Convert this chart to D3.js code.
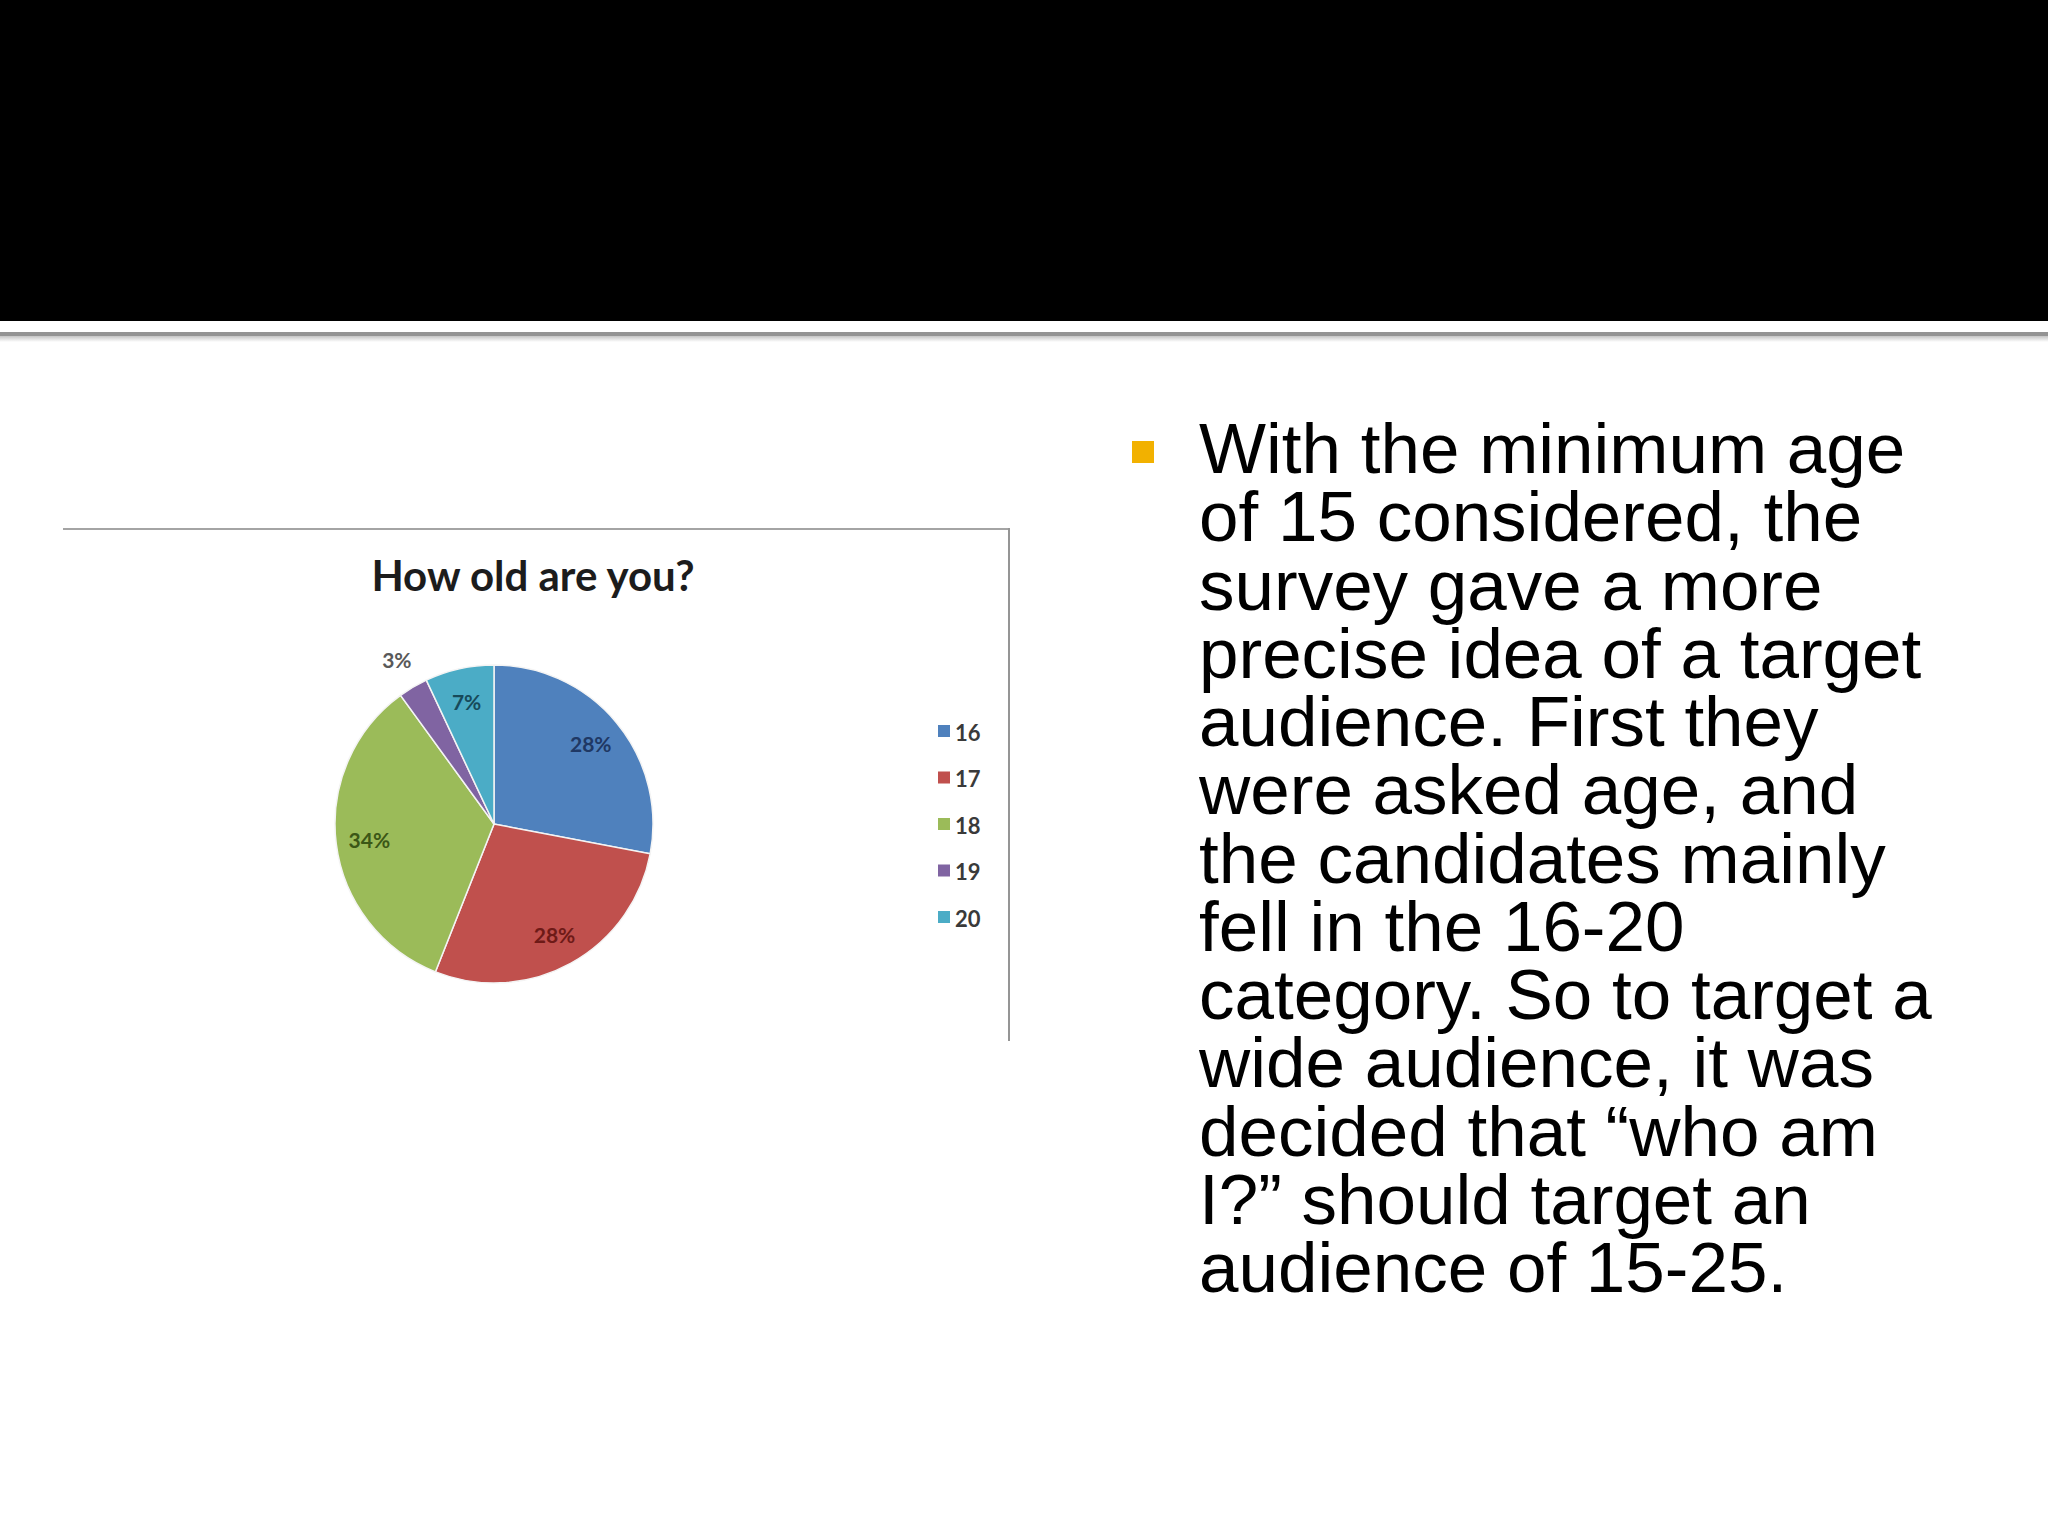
<!DOCTYPE html>
<html>
<head>
<meta charset="utf-8">
<script src="https://cdn.jsdelivr.net/npm/d3@7"></script>
<style>
  html, body { margin: 0; padding: 0; background: #fff; }
  svg { display: block; }
</style>
</head>
<body>
<div id="slide"></div>
<script>
// chart data
var ages = ["16", "17", "18", "19", "20"];
var shares = [28, 28, 34, 3, 7];
var sliceColors = ["#4F81BD", "#C0504D", "#9BBB59", "#8064A2", "#4BACC6"];
var labelColors = ["#1F3864", "#6E1A17", "#3B5716", "#595959", "#174A5A"];
var chartTitle = "How old are you?";

// slide text
var bodyLines = [
  "With the minimum age",
  "of 15 considered, the",
  "survey gave a more",
  "precise idea of a target",
  "audience. First they",
  "were asked age, and",
  "the candidates mainly",
  "fell in the 16-20",
  "category. So to target a",
  "wide audience, it was",
  "decided that \u201cwho am",
  "I?\u201d should target an",
  "audience of 15-25."
];

var W = 2048, H = 1536;
var svg = d3.select("#slide").append("svg")
  .attr("width", W).attr("height", H);

var defs = svg.append("defs");
var grad = defs.append("linearGradient").attr("id", "shadow")
  .attr("x1", 0).attr("y1", 0).attr("x2", 0).attr("y2", 1);
grad.append("stop").attr("offset", "0%").attr("stop-color", "#c4c4c4");
grad.append("stop").attr("offset", "100%").attr("stop-color", "#ffffff");

svg.append("rect").attr("width", W).attr("height", H).attr("fill", "#fff");

// title band + divider
svg.append("rect").attr("x", 0).attr("y", 0).attr("width", W).attr("height", 321).attr("fill", "#000");
svg.append("rect").attr("x", 0).attr("y", 332).attr("width", W).attr("height", 4).attr("fill", "#939393");
svg.append("rect").attr("x", 0).attr("y", 336).attr("width", W).attr("height", 6).attr("fill", "url(#shadow)");

// chart frame
var frame = svg.append("g");
frame.append("line").attr("x1", 63).attr("x2", 1010).attr("y1", 529).attr("y2", 529)
  .attr("stroke", "#a4a4a4").attr("stroke-width", 2);
frame.append("line").attr("x1", 1009).attr("x2", 1009).attr("y1", 528).attr("y2", 1041)
  .attr("stroke", "#959595").attr("stroke-width", 2);

frame.append("text")
  .attr("x", 533).attr("y", 591)
  .attr("text-anchor", "middle")
  .attr("font-family", "Lato, 'Open Sans', sans-serif")
  .attr("font-weight", "bold")
  .attr("font-size", 42)
  .attr("fill", "#1c1c1c")
  .text(chartTitle);

// pie
var cx = 494, cy = 824, r = 159;
var pie = d3.pie().sort(null).value(function(d){ return d; });
var arcs = pie(shares);
var arc = d3.arc().innerRadius(0).outerRadius(r);
var labelArc = d3.arc().innerRadius(r * 0.79).outerRadius(r * 0.79);
var outsideArc = d3.arc().innerRadius(r * 1.2).outerRadius(r * 1.2);

var pieG = svg.append("g").attr("transform", "translate(" + cx + "," + cy + ")");
pieG.selectAll("path").data(arcs).enter().append("path")
  .attr("d", arc)
  .attr("fill", function(d, i){ return sliceColors[i]; })
  .attr("stroke", "#f4f4f4")
  .attr("stroke-width", 1.5);

pieG.selectAll("text").data(arcs).enter().append("text")
  .attr("transform", function(d){
    var small = (d.endAngle - d.startAngle) < 0.25;
    var p = small ? outsideArc.centroid(d) : labelArc.centroid(d);
    return "translate(" + p[0] + "," + p[1] + ")";
  })
  .attr("text-anchor", "middle")
  .attr("dominant-baseline", "central")
  .attr("font-family", "Lato, 'Open Sans', sans-serif")
  .attr("font-weight", "bold")
  .attr("font-size", 21)
  .attr("fill", function(d, i){ return labelColors[i]; })
  .text(function(d){ return d.data + "%"; });

// legend
var legendY = d3.scalePoint().domain(ages).range([731, 917]);
var legend = svg.append("g").selectAll("g").data(ages).enter().append("g")
  .attr("transform", function(d){ return "translate(938," + legendY(d) + ")"; });
legend.append("rect")
  .attr("x", 0).attr("y", -6).attr("width", 12).attr("height", 12)
  .attr("fill", function(d, i){ return sliceColors[i]; });
legend.append("text")
  .attr("x", 17).attr("y", 1)
  .attr("dominant-baseline", "central")
  .attr("font-family", "Lato, 'Open Sans', sans-serif")
  .attr("font-weight", "bold")
  .attr("font-size", 22)
  .attr("fill", "#3a3a3a")
  .text(function(d){ return d; });

// bullet text
svg.append("rect").attr("x", 1132).attr("y", 441).attr("width", 22).attr("height", 22).attr("fill", "#F2B100");
var lineY = d3.scaleLinear().domain([0, bodyLines.length - 1]).range([473, 473 + 68.25 * (bodyLines.length - 1)]);
svg.append("g").selectAll("text").data(bodyLines).enter().append("text")
  .attr("x", 1199)
  .attr("y", function(d, i){ return lineY(i); })
  .attr("font-family", "'Liberation Sans', Arial, sans-serif")
  .attr("font-size", 71)
  .attr("fill", "#000")
  .text(function(d){ return d; });
</script>
</body>
</html>
